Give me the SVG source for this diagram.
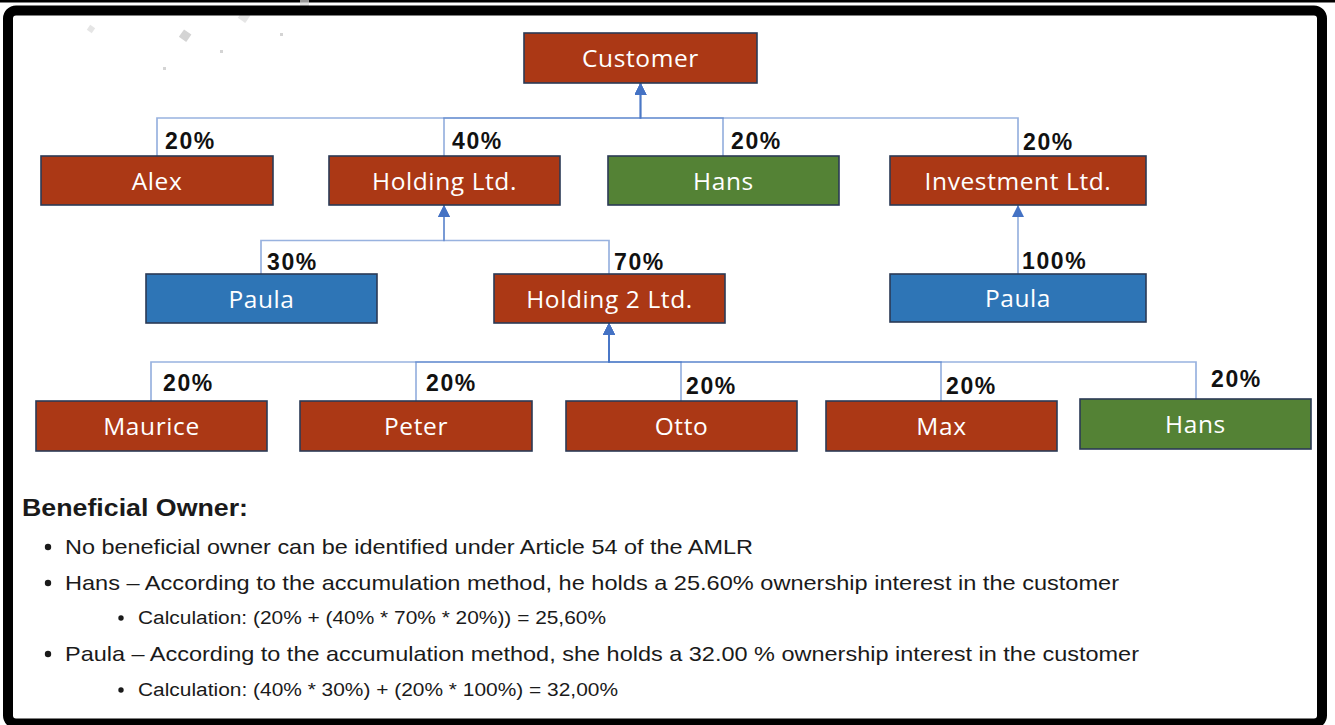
<svg xmlns="http://www.w3.org/2000/svg" width="1335" height="725" viewBox="0 0 1335 725">
  <defs>
    <style>
      .box { stroke: #2B3A55; stroke-width: 1.6; }
      .red { fill: #AB3815; }
      .green { fill: #548235; }
      .blue { fill: #2E75B6; }
      .name { font-family: "Open Sans", "Noto Sans", sans-serif; font-size: 24.5px; fill: #FFFFFF; text-anchor: middle; letter-spacing: 0.6px; }
      .pct { font-family: "Liberation Sans", Arial, sans-serif; font-weight: bold; font-size: 23px; fill: #111111; letter-spacing: 1.6px; }
      .link { fill: none; stroke: #4472C4; stroke-width: 1.7; stroke-opacity: 0.55; marker-end: url(#arrow); }
      .body { font-family: "Liberation Sans", Arial, sans-serif; font-size: 21px; fill: #1A1A1A; }
      .sub { font-family: "Liberation Sans", Arial, sans-serif; font-size: 18px; fill: #1A1A1A; }
      .head { font-family: "Liberation Sans", Arial, sans-serif; font-weight: bold; font-size: 24px; fill: #1A1A1A; }
      .speck { fill: #D4D4D4; }
    </style>
    <marker id="arrow" viewBox="0 0 12 12" refX="12" refY="6" markerWidth="12" markerHeight="12" markerUnits="userSpaceOnUse" orient="auto">
      <path d="M0,0 L12,6 L0,12 Z" fill="#4472C4"/>
    </marker>
  </defs>

  <!-- page background -->
  <rect x="0" y="0" width="1335" height="725" fill="#FFFFFF"/>
  <rect x="0" y="0" width="1335" height="2.5" fill="#000000"/>

  <!-- faint specks above the frame -->
  <g id="specks">
    <rect class="speck" x="181" y="31" width="9" height="9" transform="rotate(35 185 35)"/>
    <rect class="speck" x="240" y="12" width="9" height="9" opacity="0.6" transform="rotate(35 244 16)"/>
    <rect class="speck" x="88" y="26" width="6" height="6" opacity="0.6" transform="rotate(35 91 29)"/>
    <rect class="speck" x="300" y="0" width="9" height="6" opacity="0.7"/>
    <rect class="speck" x="220" y="50" width="3" height="3"/>
    <rect class="speck" x="163" y="67" width="3" height="3"/>
    <rect class="speck" x="280" y="33" width="3" height="3"/>
  </g>

  <!-- black frame -->
  <rect x="8" y="10.5" width="1314" height="713" rx="8" fill="none" stroke="#000000" stroke-width="10"/>

  <!-- connectors (child to parent) -->
  <g id="connectors">
    <path class="link" d="M157,156 V118 H640.5 V83"/>
    <path class="link" d="M444,156 V118 H640.5 V83"/>
    <path class="link" d="M723,156 V118 H640.5 V83"/>
    <path class="link" d="M1018,156 V118 H640.5 V83"/>
    <path class="link" d="M261,274 V240.5 H444 V205"/>
    <path class="link" d="M609,274 V240.5 H444 V205"/>
    <path class="link" d="M1018,274 V205"/>
    <path class="link" d="M151,401 V362 H609 V323"/>
    <path class="link" d="M416,401 V362 H609 V323"/>
    <path class="link" d="M681,401 V362 H609 V323"/>
    <path class="link" d="M941,401 V362 H609 V323"/>
    <path class="link" d="M1196,399 V362 H609 V323"/>
  </g>

  <!-- ownership labels -->
  <g id="labels">
    <text class="pct" x="165" y="149">20%</text>
    <text class="pct" x="452" y="149">40%</text>
    <text class="pct" x="731" y="149">20%</text>
    <text class="pct" x="1023" y="150">20%</text>
    <text class="pct" x="267" y="270">30%</text>
    <text class="pct" x="614" y="270">70%</text>
    <text class="pct" x="1022" y="269">100%</text>
    <text class="pct" x="163" y="391">20%</text>
    <text class="pct" x="426" y="391">20%</text>
    <text class="pct" x="686" y="394">20%</text>
    <text class="pct" x="946" y="394">20%</text>
    <text class="pct" x="1211" y="387">20%</text>
  </g>

  <!-- entities -->
  <g id="customer"><rect class="box red" x="524" y="33" width="233" height="50"/><text class="name" x="640.5" y="67">Customer</text></g>

  <g id="alex"><rect class="box red" x="41" y="156" width="232" height="49"/><text class="name" x="157" y="190">Alex</text></g>
  <g id="holding"><rect class="box red" x="329" y="156" width="231" height="49"/><text class="name" x="444.5" y="190">Holding Ltd.</text></g>
  <g id="hans-direct"><rect class="box green" x="608" y="156" width="231" height="49"/><text class="name" x="723.5" y="190">Hans</text></g>
  <g id="investment"><rect class="box red" x="890" y="156" width="256" height="49"/><text class="name" x="1018" y="190">Investment Ltd.</text></g>

  <g id="paula-holding"><rect class="box blue" x="146" y="274" width="231" height="49"/><text class="name" x="261.5" y="308">Paula</text></g>
  <g id="holding2"><rect class="box red" x="494" y="274" width="231" height="49"/><text class="name" x="609.5" y="308">Holding 2 Ltd.</text></g>
  <g id="paula-investment"><rect class="box blue" x="890" y="274" width="256" height="48"/><text class="name" x="1018" y="307">Paula</text></g>

  <g id="maurice"><rect class="box red" x="36" y="401" width="231" height="50"/><text class="name" x="151.5" y="435">Maurice</text></g>
  <g id="peter"><rect class="box red" x="300" y="401" width="232" height="50"/><text class="name" x="416" y="435">Peter</text></g>
  <g id="otto"><rect class="box red" x="566" y="401" width="231" height="50"/><text class="name" x="681.5" y="435">Otto</text></g>
  <g id="max"><rect class="box red" x="826" y="401" width="231" height="50"/><text class="name" x="941.5" y="435">Max</text></g>
  <g id="hans-indirect"><rect class="box green" x="1080" y="399" width="231" height="50"/><text class="name" x="1195.5" y="433">Hans</text></g>

  <!-- summary -->
  <g id="summary">
    <text class="head" x="22" y="516" textLength="226" lengthAdjust="spacingAndGlyphs">Beneficial Owner:</text>
    <circle cx="48" cy="547" r="3.2" fill="#1A1A1A"/>
    <text class="body" x="65" y="554" textLength="688" lengthAdjust="spacingAndGlyphs">No beneficial owner can be identified under Article 54 of the AMLR</text>
    <circle cx="48" cy="583" r="3.2" fill="#1A1A1A"/>
    <text class="body" x="65" y="590" textLength="1054" lengthAdjust="spacingAndGlyphs">Hans – According to the accumulation method, he holds a 25.60% ownership interest in the customer</text>
    <circle cx="121" cy="618" r="2.7" fill="#1A1A1A"/>
    <text class="sub" x="138" y="624" textLength="468" lengthAdjust="spacingAndGlyphs">Calculation: (20% + (40% * 70% * 20%)) = 25,60%</text>
    <circle cx="48" cy="654" r="3.2" fill="#1A1A1A"/>
    <text class="body" x="65" y="661" textLength="1074" lengthAdjust="spacingAndGlyphs">Paula – According to the accumulation method, she holds a 32.00 % ownership interest in the customer</text>
    <circle cx="121" cy="690" r="2.7" fill="#1A1A1A"/>
    <text class="sub" x="138" y="696" textLength="480" lengthAdjust="spacingAndGlyphs">Calculation: (40% * 30%) + (20% * 100%) = 32,00%</text>
  </g>
</svg>
